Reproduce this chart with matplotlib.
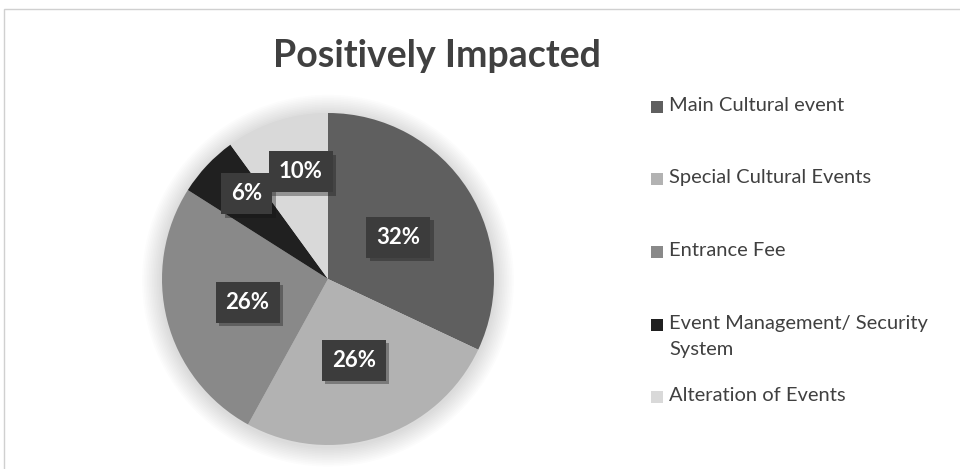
import matplotlib
matplotlib.use("Agg")
import matplotlib.pyplot as plt
import matplotlib.patheffects as pe
from matplotlib.patches import Rectangle, Circle
import numpy as np

categories = ["Main Cultural event", "Special Cultural Events", "Entrance Fee",
              "Event Management/ Security\nSystem", "Alteration of Events"]
shares = [32, 26, 26, 6, 10]
colors = ["#5f5f5f", "#b2b2b2", "#898989", "#202020", "#d9d9d9"]
label_radius = [0.5, 0.5, 0.5, 0.72, 0.68]
label_angle_shift = [0, 0, 0, -4, -4]

W, H = 960, 469
fig = plt.figure(figsize=(W / 100, H / 100), dpi=100)
fig.patch.set_facecolor("white")

# outer chart frame
fig.patches.append(Rectangle((4 / W, -0.1), 1.2, (H - 9) / H + 0.1, transform=fig.transFigure,
                             fill=False, edgecolor="#d0d0d0", linewidth=1.0))

cx, cy, r = 328, 279, 166
ext = 1.15
ax = fig.add_axes([(cx - r * ext) / W, (H - cy - r * ext) / H, 2 * r * ext / W, 2 * r * ext / H])

wedges, _ = ax.pie(shares, colors=colors, startangle=90, counterclock=False, radius=1.0,
                   wedgeprops=dict(linewidth=0), frame=False)
for w in wedges:
    w.set_zorder(2)
ax.set_xlim(-ext, ext)
ax.set_ylim(-ext, ext)
ax.set_aspect("equal")
ax.axis("off")

# soft shadow around the pie
for i in range(12):
    ax.add_patch(Circle((0.0, -0.01), 1.0 + 0.01 * (12 - i), facecolor="black",
                        edgecolor="none", alpha=0.012, zorder=0))

total = sum(shares)
cum = 0
for val, rad, shift in zip(shares, label_radius, label_angle_shift):
    mid = 90 - (cum + val / 2) / total * 360 + shift
    cum += val
    x = rad * np.cos(np.radians(mid))
    y = rad * np.sin(np.radians(mid))
    t = ax.text(x, y - 0.015, f"{val}%", ha="center", va="center", color="white",
                fontsize=16, fontweight="bold", family=["Lato", "DejaVu Sans"], zorder=5,
                bbox=dict(boxstyle="square,pad=0.45", facecolor="#3c3c3c", edgecolor="none"))
    t.get_bbox_patch().set_path_effects([pe.SimplePatchShadow(offset=(2.5, -2.5), alpha=0.35),
                                         pe.Normal()])

fig.text(437 / W, 1 - 56 / H, "Positively Impacted", ha="center", va="center",
         fontsize=27, fontweight="bold", color="#404040", family=["Lato", "DejaVu Sans"])

# legend
leg_x, leg_y0, leg_step = 651, 107, 72.5
sq = 12
for i, (lab, col) in enumerate(zip(categories, colors)):
    yy = leg_y0 + i * leg_step
    fig.patches.append(Rectangle((leg_x / W, 1 - (yy + sq / 2) / H), sq / W, sq / H,
                                 transform=fig.transFigure, facecolor=col, edgecolor="none"))
    fig.text((leg_x + 18) / W, 1 - (yy - 10) / H, lab, ha="left", va="top",
             fontsize=14.5, color="#404040", family=["Lato", "DejaVu Sans"], linespacing=1.7)

fig.savefig("out.png", dpi=100, facecolor="white")
